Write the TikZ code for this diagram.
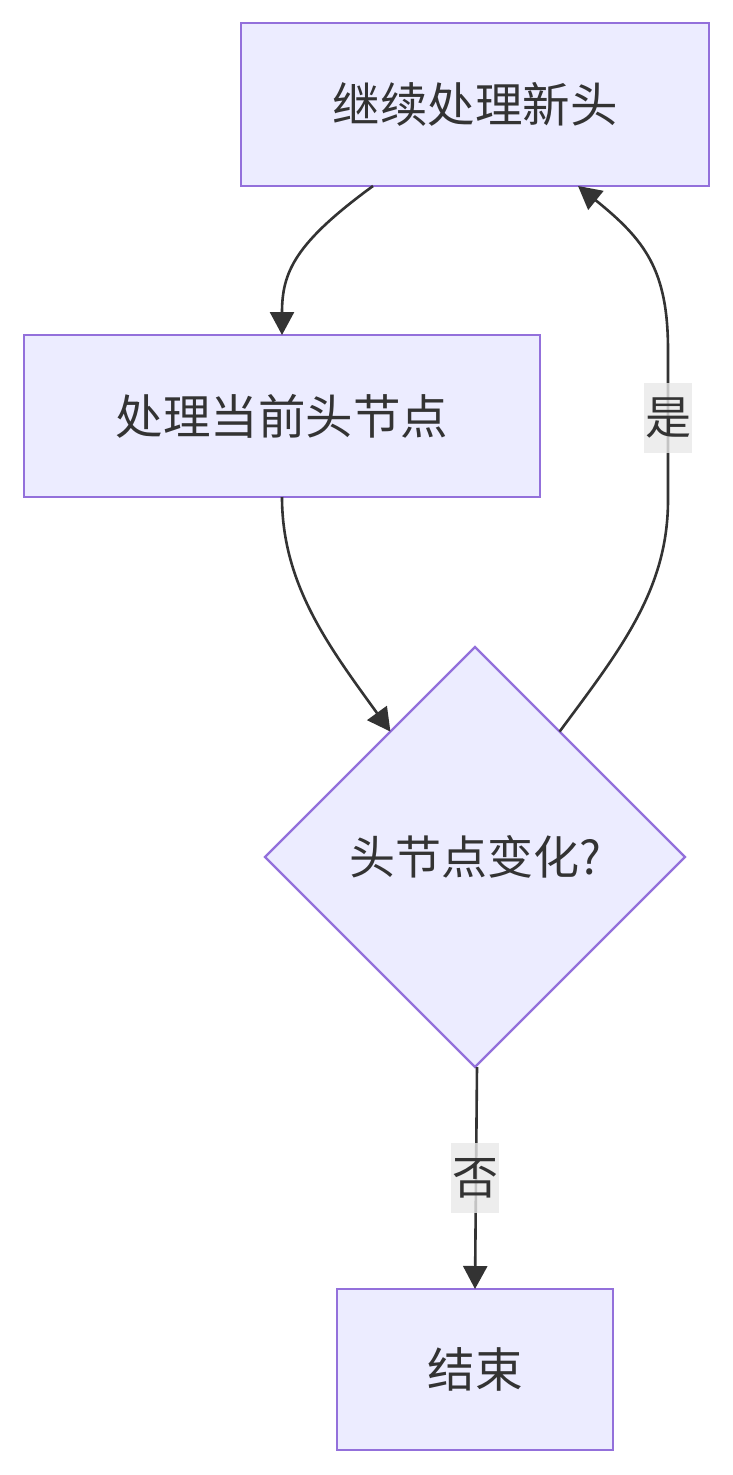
\documentclass[tikz,border=0pt]{standalone}
\usepackage{fontspec}
\setmainfont{Noto Sans CJK SC}
\usetikzlibrary{shapes.geometric,arrows.meta}
\definecolor{nodefill}{HTML}{ECECFF}
\definecolor{nodeline}{HTML}{9370DB}
\definecolor{txt}{HTML}{333333}
\definecolor{lblbg}{HTML}{E8E8E8}
\tikzset{
  box/.style={draw=nodeline, fill=nodefill, line width=2.2pt, text=txt, font=\fontsize{47.5}{52}\selectfont, outer sep=0pt, inner sep=0pt},
  decision/.style={diamond, draw=nodeline, fill=nodefill, line width=2.2pt, text=txt, font=\fontsize{46}{52}\selectfont, minimum width=420pt, minimum height=420pt, outer sep=0pt, inner sep=0pt, aspect=1},
  arr/.style={draw=txt, line width=2.6pt, -{Triangle[length=23pt,width=24pt]}},
  lbl/.style={fill=lblbg, fill opacity=0.8, text opacity=1, text=txt, font=\fontsize{46}{52}\selectfont, minimum width=48pt, minimum height=70pt, inner sep=0pt}
}
\begin{document}
\begin{tikzpicture}[x=1pt,y=-1pt]
\useasboundingbox (0,0) rectangle (733,1475);
\node[box, minimum width=468pt, minimum height=163pt] (A) at (475,104.5) {继续处理新头};
\node[box, minimum width=516pt, minimum height=162pt] (B) at (282,416) {处理当前头节点};
\node[decision] (C) at (475,857) {头节点变化?};
\node[box, minimum width=276pt, minimum height=161pt] (D) at (475,1369.5) {结束};
\draw[arr] ([xshift=-102pt]A.south) .. controls (295,243) and (282,272) .. (B.north);
\draw[arr] (B.south) .. controls (282,585) and (330,648) .. (C.124);
\draw[arr] (C.56) .. controls (620,650) and (668,590) .. (668,500) -- (668,350) .. controls (668,270) and (645,240) .. ([xshift=103pt]A.south);
\draw[arr] ([xshift=2pt]C.south) -- (D.north);
\node[lbl] (L1) at (668,418) {是};
\node[lbl] (L2) at (475,1178) {否};
\end{tikzpicture}
\end{document}
